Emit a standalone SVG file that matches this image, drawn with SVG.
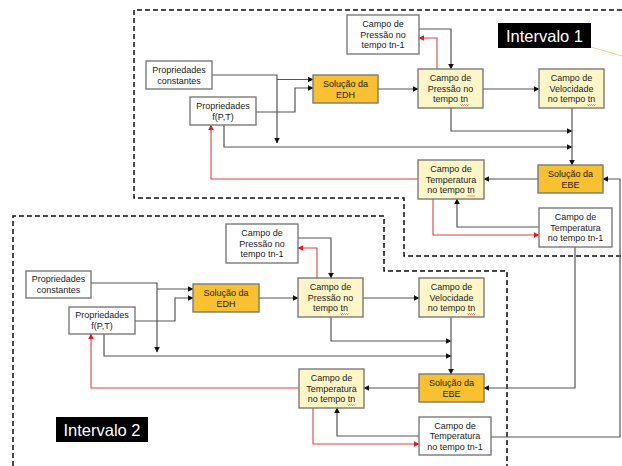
<svg xmlns="http://www.w3.org/2000/svg" width="622" height="466" viewBox="0 0 622 466">
<defs>
<marker id="ab" viewBox="0 0 10 10" refX="9" refY="5" markerWidth="6" markerHeight="6" orient="auto" markerUnits="userSpaceOnUse"><path d="M0,0 L10,5 L0,10 z" fill="#111"/></marker>
<marker id="ar" viewBox="0 0 10 10" refX="9" refY="5" markerWidth="6" markerHeight="6" orient="auto" markerUnits="userSpaceOnUse"><path d="M0,0 L10,5 L0,10 z" fill="#e8191b"/></marker>
<path id="wv" d="M0,0 l1,1 l1,-1 l1,1 l1,-1 l1,1 l1,-1 l1,1 l1,-1" fill="none" stroke="#e04040" stroke-width="0.6"/>
</defs>
<style>
.bx{stroke:#7a7a7a;stroke-width:1.4;fill:#fff}
.yl{fill:#fff6c8}
.or{fill:#f9c02f}
.t{font-family:"Liberation Sans",Arial,sans-serif;font-size:9px;fill:#1a1a1a;text-anchor:middle}
.c{fill:none;stroke:#555;stroke-width:1.2;marker-end:url(#ab)}
.r{fill:none;stroke:#e04040;stroke-width:1.1;marker-end:url(#ar)}
.d{fill:none;stroke:#111;stroke-width:1.5;stroke-dasharray:5,3}
.lab{font-family:"Liberation Sans",Arial,sans-serif;font-size:16.5px;fill:#fff;text-anchor:middle}
</style>
<rect width="622" height="466" fill="#fff"/>
<g id="borders">
<path class="d" d="M622,10 H134 V198 H404 V256 H622"/>
<path class="d" d="M13,466 V216 H384 V271 H507 V466"/>
</g>
<g id="connectors">
<path class="c" d="M212,75 H277 V143"/>
<path class="c" d="M277,79.5 H313"/>
<path class="c" d="M256,112 H295 V88 H313"/>
<path class="c" d="M224,125 V147 H572"/>
<path class="r" d="M418,179 H211 V125"/>
<path class="c" d="M378,89 H418"/>
<path class="c" d="M483,89 H539"/>
<path class="r" d="M437,69 V38 H419"/>
<path class="c" d="M419,29 H451 V69"/>
<path class="c" d="M451,108 V131 H572"/>
<path class="c" d="M572,108 V165"/>
<path class="c" d="M538,179 H484"/>
<path class="c" d="M539,227 H457 V199"/>
<path class="r" d="M433,199 V235 H539"/>
<path class="c" d="M491,437 H620 V179 H603"/>
<path class="c" d="M575,247 V388 H484"/>
<path class="c" d="M91,283 H157 V352"/>
<path class="c" d="M157,289 H193"/>
<path class="c" d="M135,321 H175 V298 H193"/>
<path class="c" d="M104,334 V356 H451"/>
<path class="r" d="M299,388 H91 V334"/>
<path class="c" d="M259,298 H298"/>
<path class="c" d="M363,298 H419"/>
<path class="r" d="M317,278 V248 H298"/>
<path class="c" d="M298,238 H331 V278"/>
<path class="c" d="M331,317 V341 H451"/>
<path class="c" d="M451,317 V374"/>
<path class="c" d="M419,388 H364"/>
<path class="c" d="M419,436 H337 V408"/>
<path class="r" d="M313,408 V444 H419"/>
<path d="M591,47 L622,56" stroke="#f3d08a" stroke-width="1" fill="none"/>
</g>
<g id="n1-const"><rect class="bx" x="146" y="61" width="66" height="28"/><text class="t" x="179" y="72.8">Propriedades</text><text class="t" x="179" y="83.6">constantes</text></g>
<g id="n1-fpt"><rect class="bx" x="190" y="97" width="66" height="28"/><text class="t" x="223" y="108.8">Propriedades</text><text class="t" x="223" y="119.6">f(P,T)</text></g>
<g id="n1-edh"><rect class="bx or" x="313" y="75" width="65" height="28"/><text class="t" x="345.5" y="86.8">Solução da</text><text class="t" x="345.5" y="97.6">EDH</text></g>
<g id="n1-ptn1"><rect class="bx" x="347" y="15" width="72" height="39"/><text class="t" x="383" y="27">Campo de</text><text class="t" x="383" y="37.7">Pressão no</text><text class="t" x="383" y="48.4">tempo tn-1</text></g>
<g id="n1-ptn"><rect class="bx yl" x="418" y="69" width="65" height="39"/><text class="t" x="450.5" y="81">Campo de</text><text class="t" x="450.5" y="91.7">Pressão no</text><text class="t" x="450.5" y="102.4">tempo tn</text><use href="#wv" x="460.5" y="104.5"/></g>
<g id="n1-vel"><rect class="bx yl" x="539" y="69" width="65" height="39"/><text class="t" x="571.5" y="81">Campo de</text><text class="t" x="571.5" y="91.7">Velocidade</text><text class="t" x="571.5" y="102.4">no tempo tn</text><use href="#wv" x="587.5" y="104.5"/></g>
<g id="n1-ebe"><rect class="bx or" x="538" y="165" width="65" height="28"/><text class="t" x="570.5" y="176.8">Solução da</text><text class="t" x="570.5" y="187.6">EBE</text></g>
<g id="n1-ttn"><rect class="bx yl" x="418" y="160" width="66" height="39"/><text class="t" x="451" y="172">Campo de</text><text class="t" x="451" y="182.7">Temperatura</text><text class="t" x="451" y="193.4">no tempo tn</text><use href="#wv" x="467" y="195.5"/></g>
<g id="n1-ttn1"><rect class="bx" x="539" y="208" width="73" height="39"/><text class="t" x="575.5" y="220">Campo de</text><text class="t" x="575.5" y="230.7">Temperatura</text><text class="t" x="575.5" y="241.4">no tempo tn-1</text></g>
<g id="label1"><rect x="498" y="23" width="93" height="25" fill="#000"/><text class="lab" x="544.5" y="41.5">Intervalo 1</text></g>
<g id="n2-const"><rect class="bx" x="26" y="271" width="65" height="27"/><text class="t" x="58.5" y="282.3">Propriedades</text><text class="t" x="58.5" y="293.1">constantes</text></g>
<g id="n2-fpt"><rect class="bx" x="69" y="307" width="66" height="27"/><text class="t" x="102" y="318.3">Propriedades</text><text class="t" x="102" y="329.1">f(P,T)</text></g>
<g id="n2-edh"><rect class="bx or" x="193" y="284" width="66" height="28"/><text class="t" x="226" y="295.8">Solução da</text><text class="t" x="226" y="306.6">EDH</text></g>
<g id="n2-ptn1"><rect class="bx" x="226" y="224" width="72" height="39"/><text class="t" x="262" y="236">Campo de</text><text class="t" x="262" y="246.7">Pressão no</text><text class="t" x="262" y="257.4">tempo tn-1</text></g>
<g id="n2-ptn"><rect class="bx yl" x="298" y="278" width="65" height="39"/><text class="t" x="330.5" y="290">Campo de</text><text class="t" x="330.5" y="300.7">Pressão no</text><text class="t" x="330.5" y="311.4">tempo tn</text><use href="#wv" x="340.5" y="313.5"/></g>
<g id="n2-vel"><rect class="bx yl" x="419" y="278" width="65" height="39"/><text class="t" x="451.5" y="290">Campo de</text><text class="t" x="451.5" y="300.7">Velocidade</text><text class="t" x="451.5" y="311.4">no tempo tn</text><use href="#wv" x="467.5" y="313.5"/></g>
<g id="n2-ebe"><rect class="bx or" x="419" y="374" width="65" height="28"/><text class="t" x="451.5" y="385.8">Solução da</text><text class="t" x="451.5" y="396.6">EBE</text></g>
<g id="n2-ttn"><rect class="bx yl" x="299" y="369" width="65" height="39"/><text class="t" x="331.5" y="381">Campo de</text><text class="t" x="331.5" y="391.7">Temperatura</text><text class="t" x="331.5" y="402.4">no tempo tn</text><use href="#wv" x="347.5" y="404.5"/></g>
<g id="n2-ttn1"><rect class="bx" x="419" y="417" width="72" height="38"/><text class="t" x="455" y="428.5">Campo de</text><text class="t" x="455" y="439.2">Temperatura</text><text class="t" x="455" y="449.9">no tempo tn-1</text></g>
<g id="label2"><rect x="56" y="417" width="92" height="25" fill="#000"/><text class="lab" x="102" y="435.5">Intervalo 2</text></g>
</svg>
